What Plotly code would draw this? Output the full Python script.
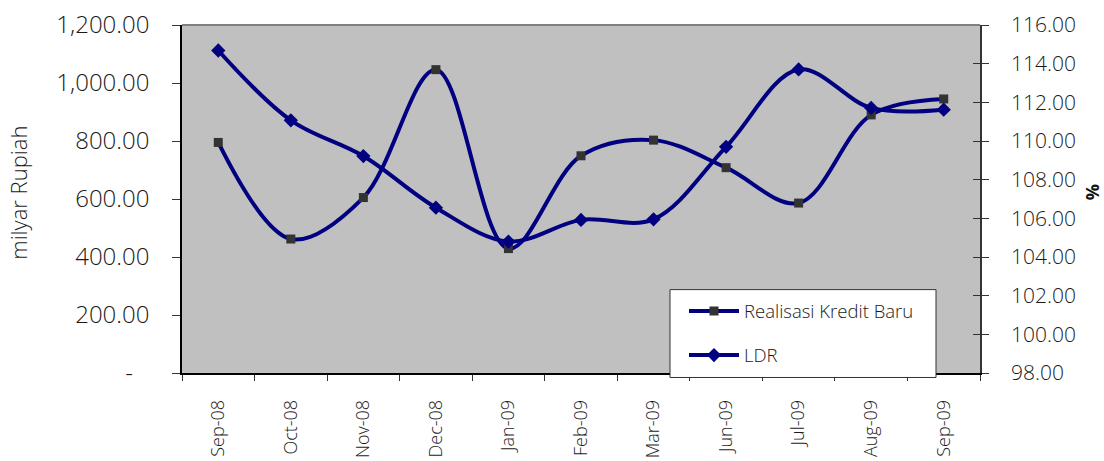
import plotly.graph_objects as go

# Monthly data
months = ["Sep-08", "Oct-08", "Nov-08", "Dec-08", "Jan-09", "Feb-09",
          "Mar-09", "Jun-09", "Jul-09", "Aug-09", "Sep-09"]
kredit_baru = [795, 462, 605, 1046, 429, 749, 803, 708, 586, 890, 945]   # milyar Rupiah
ldr = [114.68, 111.07, 109.22, 106.55, 104.80, 105.92, 105.95, 109.70, 113.70, 111.71, 111.62]  # %

left_ticks = [0, 200, 400, 600, 800, 1000, 1200]
left_text = ["-\u00a0\u00a0\u2009", "200.00", "400.00", "600.00", "800.00", "1,000.00", "1,200.00"]
right_ticks = [98, 100, 102, 104, 106, 108, 110, 112, 114, 116]
right_text = [f"{v:.2f}" for v in right_ticks]

FONT = "Open Sans"
NAVY = "#000080"
TXT = "#1a1a1a"

# plot area in pixels (for placing the legend frame)
PL, PR, PT, PB = 182, 980, 25, 373.5
def px(x):
    return (x - PL) / (PR - PL)
def py(y):
    return (PB - y) / (PB - PT)

fig = go.Figure()
fig.add_trace(go.Scatter(
    x=months, y=kredit_baru, name="Realisasi Kredit Baru",
    mode="lines+markers", line=dict(color=NAVY, width=4, shape="spline", smoothing=1.0),
    marker=dict(symbol="square", size=9, color="#333333", line=dict(width=0)),
    legendgroup="a", yaxis="y",
))
fig.add_trace(go.Scatter(
    x=months, y=ldr, name="LDR",
    mode="lines+markers", line=dict(color=NAVY, width=4, shape="spline", smoothing=1.0),
    marker=dict(symbol="diamond", size=11, color=NAVY, line=dict(width=0)),
    legendgroup="b", yaxis="y2",
))
# inner tick marks on the right axis
fig.add_trace(go.Scatter(x=[months[0]], y=[None], yaxis="y3", showlegend=False, hoverinfo="skip"))

fig.update_layout(
    width=1104, height=461,
    margin=dict(l=PL, r=1104 - PR, t=PT, b=461 - PB, autoexpand=False),
    paper_bgcolor="white", plot_bgcolor="#C0C0C0",
    font=dict(family=FONT, color=TXT, weight=300),
    showlegend=True,
    legend=dict(
        x=px(684), y=py(375), xanchor="left", yanchor="bottom",
        bgcolor="rgba(0,0,0,0)", borderwidth=0,
        font=dict(family=FONT, size=18.5, color=TXT, weight=300),
        tracegroupgap=17, itemwidth=50,
    ),
    xaxis=dict(
        type="category", tickangle=-90, tickson="boundaries", automargin=False,
        ticks="outside", ticklen=6, tickcolor="#333333",
        showline=True, linecolor="black", linewidth=1.5,
        showgrid=False, zeroline=False,
        tickfont=dict(family=FONT, size=18, color=TXT, weight=300),
        ticklabelstandoff=18,
        range=[-0.5, 10.5],
    ),
    yaxis=dict(
        range=[0, 1200], tickvals=left_ticks, ticktext=left_text, automargin=False,
        ticks="outside", ticklen=8, tickcolor="#333333",
        showline=True, linecolor="black", linewidth=1.5,
        showgrid=False, zeroline=False,
        tickfont=dict(family=FONT, size=24, color=TXT, weight=300),
        ticklabelstandoff=18,
    ),
    yaxis2=dict(
        range=[98, 116], tickvals=right_ticks, ticktext=right_text,
        overlaying="y", side="right", automargin=False,
        ticks="outside", ticklen=7, tickcolor="#333333",
        showline=True, linecolor="#333333", linewidth=1.5,
        showgrid=False, zeroline=False,
        tickfont=dict(family=FONT, size=21, color=TXT, weight=300),
        ticklabelstandoff=18,
    ),
    yaxis3=dict(
        range=[98, 116], tickvals=right_ticks, overlaying="y", side="right",
        automargin=False,
        ticks="inside", ticklen=7, tickcolor="#333333", showticklabels=False,
        showline=False, showgrid=False, zeroline=False,
    ),
    shapes=[
        dict(type="line", xref="paper", yref="paper", x0=0, x1=1, y0=1, y1=1,
             line=dict(color="#808080", width=2)),
        # legend frame
        dict(type="rect", xref="paper", yref="paper", layer="above",
             x0=px(670), x1=px(936), y0=py(378), y1=py(290),
             fillcolor="white", line=dict(color="#333333", width=1)),
    ],
    annotations=[
        dict(text="milyar Rupiah", textangle=-90, xref="paper", yref="paper",
             x=-0.205, y=0.519, xanchor="center", yanchor="middle", showarrow=False,
             font=dict(family=FONT, size=22, color=TXT, weight=300)),
        dict(text="<b>%</b>", textangle=-90, xref="paper", yref="paper",
             x=1.1405, y=0.52, xanchor="center", yanchor="middle", showarrow=False,
             font=dict(family=FONT, size=18, color="#111111")),
    ],
)

fig.write_html("out.html")
